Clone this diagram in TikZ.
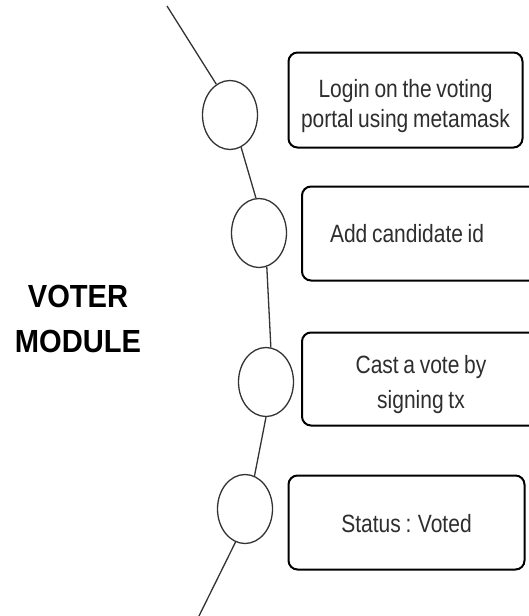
\documentclass[tikz,border=0pt]{standalone}
\usepackage{fontspec}
\setmainfont{Liberation Sans}
\newfontfamily\boxfont[FakeStretch=0.84,WordSpace=0.8]{Liberation Sans}
\newfontfamily\titlefont[FakeStretch=0.91,WordSpace=0.9]{Liberation Sans}
\usetikzlibrary{shapes.geometric}
\definecolor{txt}{HTML}{2E2E2E}
\definecolor{ln}{HTML}{333333}
\newcommand{\hstrut}[1]{\rule{0pt}{#1}}
\newcommand{\dstrut}[1]{\rule[-#1]{0pt}{#1}}
\tikzset{
  dot/.style={ellipse, draw=ln, line width=1.3pt, minimum width=55pt, minimum height=69pt, inner sep=0pt},
  stepbox/.style={draw=black, line width=2pt, rounded corners=9pt, text=txt, font=\boxfont\fontsize{25pt}{30pt}\selectfont, align=center, inner sep=0pt},
  wire/.style={draw=ln, line width=1.3pt},
}
\begin{document}
\begin{tikzpicture}[x=1pt,y=-1pt]
\useasboundingbox (0,0) rectangle (529,616);
\fill[white] (0,0) rectangle (529,616);
\clip (0,0) rectangle (529,616);
\node[font=\titlefont\fontsize{32pt}{45pt}\bfseries\selectfont, align=center, text=black, inner sep=0pt] (title) at (78,319) {VOTER\\MODULE};
\node[dot] (c1) at (230,115) {};
\node[dot] (c2) at (259,233) {};
\node[dot] (c3) at (266,382) {};
\node[dot] (c4) at (245,509) {};
\coordinate (top) at (167,6);
\coordinate (bot) at (198,618);
\draw[wire] (top) -- (c1.114);
\draw[wire] (c1.-71) -- (c2.95);
\draw[wire] (c2.-77) -- (c3.82);
\draw[wire] (c3.-90) -- (c4.74);
\draw[wire] (c4.-106) -- (bot);
\node[stepbox, minimum width=234pt, minimum height=95pt] (b1) at (405.5,100)
  {\hstrut{30pt}Login on the voting\\portal using metamask\dstrut{6pt}};
\node[stepbox, minimum width=238pt, minimum height=94pt, text width=182pt, inner xsep=28pt, align=flush left] (b2) at (421,233.5)
  {\hstrut{19pt}Add candidate id\dstrut{2pt}};
\node[stepbox, minimum width=238pt, minimum height=93pt, font=\boxfont\fontsize{25pt}{35pt}\selectfont] (b3) at (421,379)
  {\hstrut{29pt}Cast a vote by\\signing tx\dstrut{6pt}};
\node[stepbox, minimum width=236pt, minimum height=94pt] (b4) at (406.5,522.5)
  {\hstrut{20pt}Status : Voted\dstrut{1pt}};
\end{tikzpicture}
\end{document}
